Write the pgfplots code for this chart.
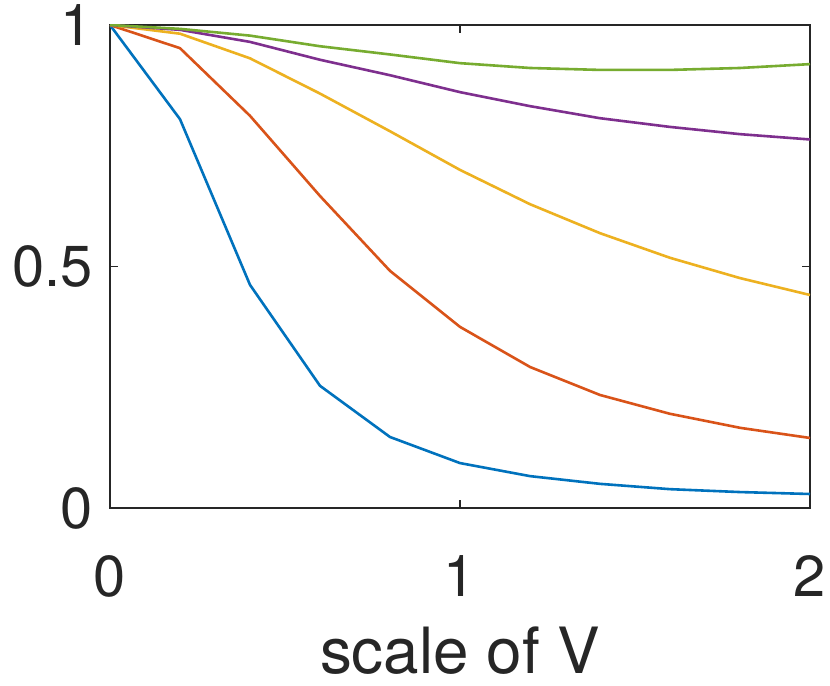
\documentclass[border=0pt]{standalone}
\usepackage{fontspec}
\setmainfont{TeX Gyre Heros}
\usepackage{pgfplots}
\pgfplotsset{compat=1.18}
\definecolor{mblue}{rgb}{0,0.447,0.741}
\definecolor{mred}{rgb}{0.85,0.325,0.098}
\definecolor{myellow}{rgb}{0.929,0.694,0.125}
\definecolor{mpurple}{rgb}{0.494,0.184,0.556}
\definecolor{mgreen}{rgb}{0.466,0.674,0.188}
\definecolor{axgray}{rgb}{0.15,0.15,0.15}
\begin{document}
\begin{tikzpicture}
\useasboundingbox[fill=white] (-110bp,-178bp) rectangle (720bp,508bp);
\begin{axis}[
  at={(0,0)}, anchor=south west,
  scale only axis, width=700bp, height=483bp,
  xmin=0, xmax=2, ymin=0, ymax=1,
  xtick={0,1,2}, ytick={0,0.5,1},
  tick align=inside,
  major tick length=8bp,
  axis line style={color=axgray, line width=1.6bp},
  every tick/.style={color=axgray, line width=1.6bp},
  /pgf/number format/assume math mode=true,
  tick label style={font=\fontsize{58}{60}\selectfont, text=axgray},
  yticklabel style={xshift=-14bp},
  xticklabel style={yshift=-44bp},
  xlabel={scale of V},
  xlabel style={font=\fontsize{64}{66}\selectfont, text=axgray, yshift=-23bp},
  every axis plot/.append style={line width=2.6bp, line join=round},
]
\addplot[mblue] coordinates {(0,1) (0.2,0.805) (0.4,0.462) (0.6,0.253) (0.8,0.147) (1.0,0.093) (1.2,0.066) (1.4,0.050) (1.6,0.039) (1.8,0.033) (2.0,0.029)};
\addplot[mred] coordinates {(0,1) (0.2,0.952) (0.4,0.812) (0.6,0.646) (0.8,0.491) (1.0,0.375) (1.2,0.292) (1.4,0.234) (1.6,0.195) (1.8,0.166) (2.0,0.145)};
\addplot[myellow] coordinates {(0,1) (0.2,0.982) (0.4,0.931) (0.6,0.858) (0.8,0.780) (1.0,0.700) (1.2,0.629) (1.4,0.569) (1.6,0.518) (1.8,0.476) (2.0,0.441)};
\addplot[mpurple] coordinates {(0,1) (0.2,0.990) (0.4,0.965) (0.6,0.928) (0.8,0.896) (1.0,0.861) (1.2,0.832) (1.4,0.807) (1.6,0.789) (1.8,0.774) (2.0,0.763)};
\addplot[mgreen] coordinates {(0,1) (0.2,0.992) (0.4,0.978) (0.6,0.956) (0.8,0.939) (1.0,0.921) (1.2,0.911) (1.4,0.907) (1.6,0.907) (1.8,0.911) (2.0,0.919)};
\end{axis}
\end{tikzpicture}
\end{document}
